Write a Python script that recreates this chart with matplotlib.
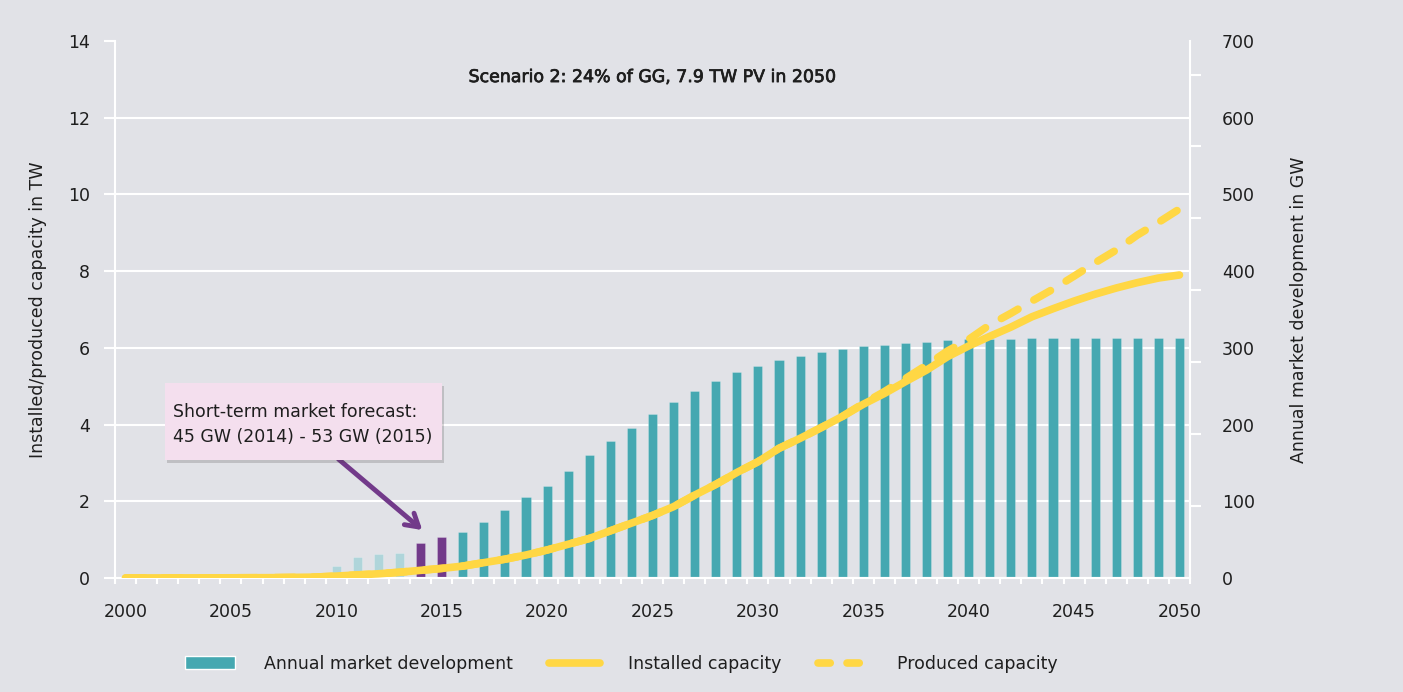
import numpy as np
import matplotlib; matplotlib.use('Agg'); import matplotlib.pyplot as plt
from matplotlib.patches import Patch, Rectangle
from matplotlib.lines import Line2D
import matplotlib.patheffects as pe

BG = '#E1E2E7'; TEAL = '#45A8B1'; LIGHT = '#AFD5DA'; PURPLE = '#723A8A'
YELLOW = '#FFD744'; PINK = '#F4DFEE'; INK = '#1E1E1E'
plt.rcParams['font.family'] = ['DejaVu Sans']
plt.rcParams['font.size'] = 12

years = list(range(2000, 2051))
# annual additions, GW (right axis)
annual_gw = [0.3, 0.3, 0.5, 0.6, 1.1, 1.4, 1.6, 2.5, 5, 6.6,
             16, 28, 30.7, 33, 45, 53, 60, 73, 88, 106,
             120, 140, 160, 178, 196, 214, 230, 244, 257, 268,
             277, 284, 289, 295, 299, 302, 304, 306, 308, 310,
             311, 311, 311, 313, 313, 313, 313, 313, 313, 313, 313]
# cumulative capacity, TW (left axis)
installed_tw = [0.001, 0.002, 0.002, 0.003, 0.004, 0.005, 0.007, 0.009, 0.016, 0.023,
                0.05, 0.08, 0.11, 0.15, 0.2, 0.25, 0.31, 0.4, 0.49, 0.6,
                0.73, 0.88, 1.03, 1.23, 1.43, 1.63, 1.86, 2.16, 2.44, 2.75,
                3.03, 3.38, 3.64, 3.92, 4.21, 4.53, 4.81, 5.12, 5.42, 5.77,
                6.05, 6.3, 6.54, 6.81, 7.02, 7.22, 7.4, 7.56, 7.7, 7.82, 7.9]
produced_tw = [0.001, 0.002, 0.002, 0.003, 0.004, 0.005, 0.007, 0.009, 0.016, 0.023,
               0.05, 0.08, 0.11, 0.15, 0.2, 0.25, 0.31, 0.4, 0.49, 0.6,
               0.73, 0.88, 1.03, 1.23, 1.43, 1.63, 1.86, 2.16, 2.44, 2.75,
               3.03, 3.38, 3.64, 3.92, 4.21, 4.55, 4.86, 5.2, 5.55, 5.92,
               6.22, 6.6, 6.9, 7.22, 7.53, 7.87, 8.22, 8.55, 8.94, 9.27, 9.62]
historic_end, forecast_years = 2013, (2014, 2015)
tw_ticks = list(range(0, 16, 2))
gw_ticks = list(range(0, 800, 100))
year_ticks = list(range(2000, 2055, 5))

DASH = (0, (2.5, 2.4))

fig = plt.figure(figsize=(14.03, 6.92), dpi=100, facecolor=BG)
ax = fig.add_axes([115/1403, 1-578/692, 1075/1403, 537/692])
axr = ax.twinx()
ax.set_zorder(2); axr.set_zorder(1)
ax.patch.set_visible(False); axr.patch.set_visible(False)

# bars on the right (GW) axis
bar_colors = [LIGHT if y <= historic_end else PURPLE if y in forecast_years else TEAL for y in years]
axr.bar(years, annual_gw, width=0.43, color=bar_colors, edgecolor=(1, 1, 1, 0.25), lw=0.6, zorder=2)
for g in gw_ticks[1:-1]:
    axr.axhline(g, color='white', lw=1.5, zorder=0)
axr.set_ylim(0, 700)
axr.set_yticks(gw_ticks)
axr.set_yticks([k*93.75 for k in range(8)], minor=True)
axr.tick_params(axis='y', which='major', length=0, pad=23, colors=INK, labelsize=12.5)
axr.tick_params(axis='y', which='minor', length=8, width=1.5, color='white', direction='out')
axr.set_ylabel('Annual market development in GW', color=INK, fontsize=12.5, labelpad=25)

# lines on the left (TW) axis
ax.plot(years, produced_tw, color=YELLOW, lw=5.5, ls=DASH, dash_capstyle='round', zorder=3)
ax.plot(years, installed_tw, color=YELLOW, lw=5.5, solid_capstyle='round', zorder=4)
ax.set_ylim(0, 14)
ax.set_xlim(1999.5, 2050.5)
ax.set_yticks(tw_ticks)
ax.set_xticks(year_ticks)
ax.set_xticks(np.arange(1999.5, 2051, 1), minor=True)
ax.tick_params(axis='y', length=8, width=1.5, color='white', pad=10, labelcolor=INK, labelsize=12.5)
ax.tick_params(axis='x', which='major', length=0, pad=18, labelcolor=INK, labelsize=12.5)
ax.tick_params(axis='x', which='minor', length=4, width=1.5, color='white', direction='out')
ax.set_ylabel('Installed/produced capacity in TW', color=INK, fontsize=12.5, labelpad=15)

for a in (ax, axr):
    a.spines['top'].set_visible(False)
    for s in ('left', 'right', 'bottom'):
        a.spines[s].set_color('white'); a.spines[s].set_linewidth(1.5)
axr.spines['left'].set_visible(False)
ax.spines['right'].set_visible(False)

ax.text(2025, 13.06, 'Scenario 2: 24% of GG, 7.9 TW PV in 2050', ha='center', va='center',
        fontsize=12.5, color=INK,
        path_effects=[pe.withStroke(linewidth=0.5, foreground=INK)])

# forecast callout
box = Rectangle((2001.85, 3.08), 13.15, 2.0, facecolor=PINK, edgecolor='none', zorder=6,
                path_effects=[pe.SimplePatchShadow(offset=(2, -2), alpha=0.22), pe.Normal()])
ax.add_patch(box)
ax.text(2002.25, 4.0, 'Short-term market forecast:\n45 GW (2014) - 53 GW (2015)',
        ha='left', va='center', fontsize=12.5, color=INK, linespacing=1.5, zorder=7)
ax.annotate('', xy=(2014.08, 1.25), xytext=(2010.1, 3.1),
            arrowprops=dict(arrowstyle='->,head_length=0.75,head_width=0.45', color=PURPLE, lw=3.5,
                            shrinkA=0, shrinkB=0), zorder=5)

handles = [Patch(facecolor=TEAL, edgecolor='white', lw=1),
           Line2D([], [], color=YELLOW, lw=5.5, solid_capstyle='round'),
           Line2D([], [], color=YELLOW, lw=5.5, ls=(0, (1.6, 2.2)), dash_capstyle='round')]
labels = ['Annual market development', 'Installed capacity', 'Produced capacity']
fig.legend(handles, labels, loc='center', bbox_to_anchor=(0.443, 0.041), ncol=3, frameon=False,
           fontsize=12.5, handlelength=2.9, handletextpad=1.65, columnspacing=2.1, labelcolor=INK)

fig.savefig('out.png', dpi=100, facecolor=BG)
